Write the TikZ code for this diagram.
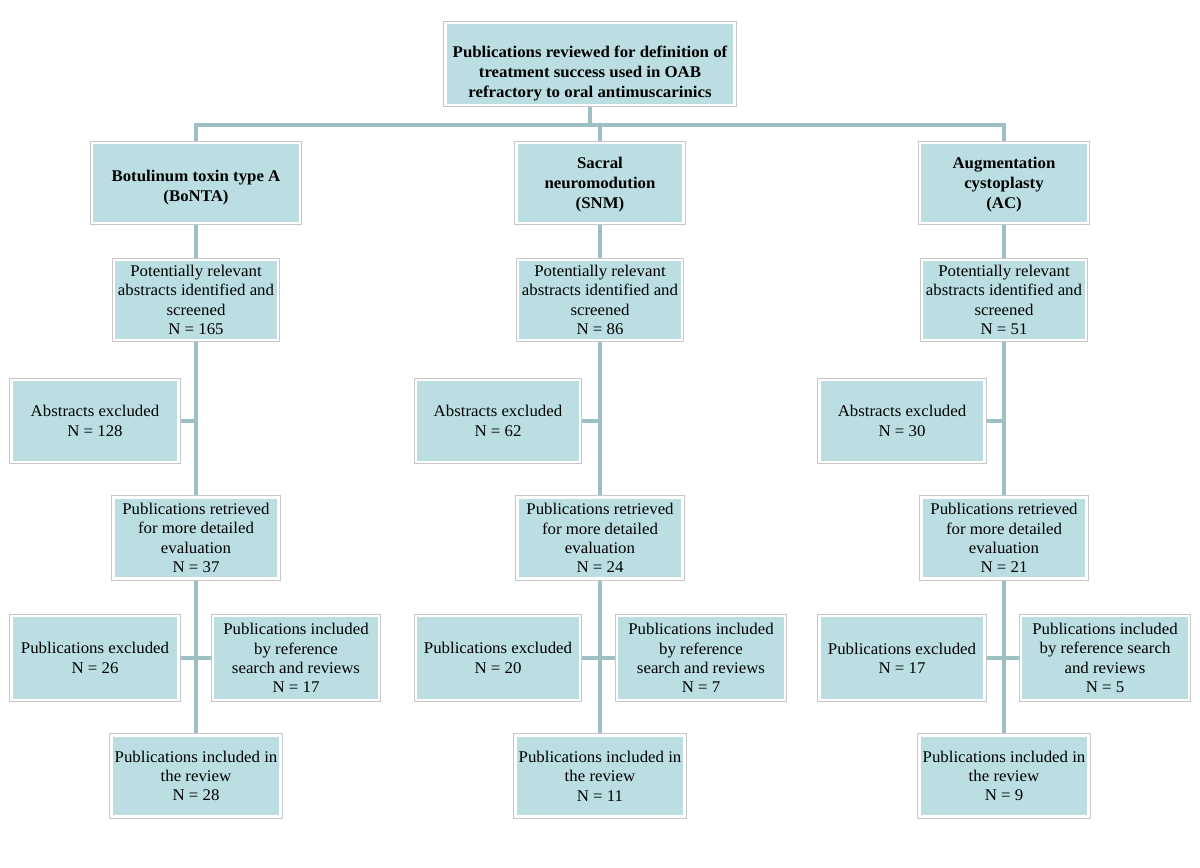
\documentclass[tikz,border=0pt]{standalone}
\usepackage{fontspec}
\setmainfont[FakeStretch=1.03]{Liberation Serif}
\usetikzlibrary{backgrounds}
\definecolor{boxc}{RGB}{186,222,226}
\definecolor{linec}{RGB}{158,192,197}
\begin{document}
\begin{tikzpicture}[x=0.02cm,y=-0.02cm,
  txt/.style={font=\fontsize{9.3}{11}\selectfont},
  btxt/.style={font=\bfseries\fontsize{9.3}{11.4}\selectfont},
  box/.style={preaction={draw=black!22,line width=2.3pt},fill=boxc,draw=white,line width=1.6pt,
    align=center,inner sep=2pt,txt},
  conn/.style={draw=linec,line width=2.4pt}]
\useasboundingbox (0,0) rectangle (1200,867);
% top
\node[box,btxt,inner ysep=0pt,minimum width=289*0.02cm,minimum height=82*0.02cm] (top) at (590,64)
 {\rule{0pt}{0.6cm}Publications reviewed for definition of\\treatment success used in OAB\\refractory to oral antimuscarinics};
% level 1
\node[box,btxt,minimum width=208*0.02cm,minimum height=80*0.02cm] (b1) at (196,183) {\rule{0pt}{0.4cm}Botulinum toxin type A\\(BoNTA)};
\node[box,btxt,minimum width=167*0.02cm,minimum height=80*0.02cm] (b2) at (600,183) {\rule{0pt}{0.3cm}Sacral\\neuromodution\\(SNM)};
\node[box,btxt,minimum width=168*0.02cm,minimum height=80*0.02cm] (b3) at (1004,183) {\rule{0pt}{0.3cm}Augmentation\\cystoplasty\\(AC)};
% level 2
\node[box,minimum width=164*0.02cm,minimum height=80*0.02cm] (p1) at (196,300) {Potentially relevant\\abstracts identified and\\screened\\N = 165};
\node[box,minimum width=164*0.02cm,minimum height=80*0.02cm] (p2) at (600,300) {Potentially relevant\\abstracts identified and\\screened\\N = 86};
\node[box,minimum width=164*0.02cm,minimum height=80*0.02cm] (p3) at (1004,300) {Potentially relevant\\abstracts identified and\\screened\\N = 51};
% abstracts excluded
\node[box,minimum width=167*0.02cm,minimum height=82*0.02cm] (a1) at (95,421) {Abstracts excluded\\N = 128};
\node[box,minimum width=164*0.02cm,minimum height=82*0.02cm] (a2) at (498,421) {Abstracts excluded\\N = 62};
\node[box,minimum width=165*0.02cm,minimum height=82*0.02cm] (a3) at (902,421) {Abstracts excluded\\N = 30};
% retrieved
\node[box,minimum width=165*0.02cm,minimum height=81*0.02cm] (r1) at (196,538) {Publications retrieved\\for more detailed\\evaluation\\N = 37};
\node[box,minimum width=165*0.02cm,minimum height=81*0.02cm] (r2) at (600,538) {Publications retrieved\\for more detailed\\evaluation\\N = 24};
\node[box,minimum width=165*0.02cm,minimum height=81*0.02cm] (r3) at (1004,538) {Publications retrieved\\for more detailed\\evaluation\\N = 21};
% publications excluded
\node[box,minimum width=167*0.02cm,minimum height=84*0.02cm] (e1) at (95,658) {Publications excluded\\N = 26};
\node[box,minimum width=164*0.02cm,minimum height=84*0.02cm] (e2) at (498,658) {Publications excluded\\N = 20};
\node[box,minimum width=165*0.02cm,minimum height=84*0.02cm] (e3) at (902,658) {Publications excluded\\N = 17};
% included by reference
\node[box,minimum width=166*0.02cm,minimum height=84*0.02cm] (i1) at (296,658) {Publications included\\by reference\\search and reviews\\N = 17};
\node[box,minimum width=168*0.02cm,minimum height=84*0.02cm] (i2) at (701,658) {Publications included\\by reference\\search and reviews\\N = 7};
\node[box,minimum width=168*0.02cm,minimum height=84*0.02cm] (i3) at (1105,658) {Publications included\\by reference search\\and reviews\\N = 5};
% included in review
\node[box,minimum width=165*0.02cm,minimum height=81*0.02cm] (v1) at (196,776) {Publications included in\\the review\\N = 28};
\node[box,minimum width=165*0.02cm,minimum height=81*0.02cm] (v2) at (600,776) {Publications included in\\the review\\N = 11};
\node[box,minimum width=165*0.02cm,minimum height=81*0.02cm] (v3) at (1004,776) {Publications included in\\the review\\N = 9};
\coordinate (bar) at (590,125);
\begin{pgfonlayer}{background}
\draw[conn] (top.south) -- (bar);
\draw[conn] (b1.north) |- (bar) -| (b3.north);
\draw[conn] (b2.north) -- (b2.north |- bar);
\foreach \i in {1,2,3}{
  \draw[conn] (b\i.south) -- (v\i.north);
  \draw[conn] (a\i.east) -- (a\i.east -| b\i);
  \draw[conn] (e\i.east) -- (i\i.west);
}
\end{pgfonlayer}
\end{tikzpicture}
\end{document}
